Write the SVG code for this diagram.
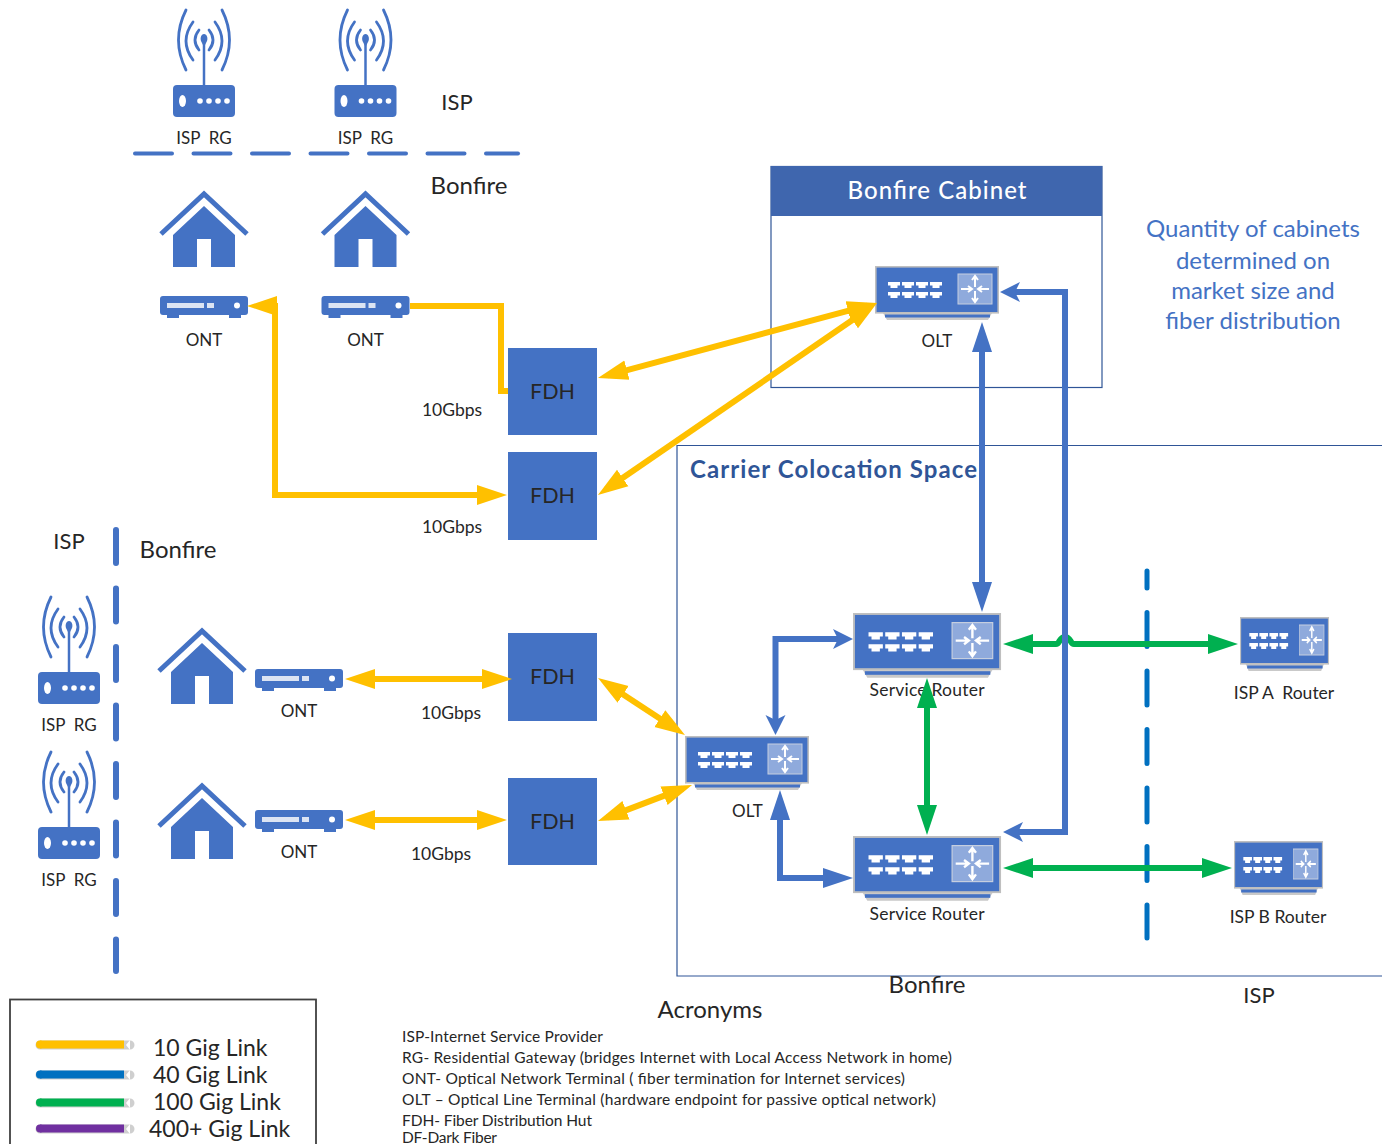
<svg xmlns="http://www.w3.org/2000/svg" width="1382" height="1144" viewBox="0 0 1382 1144">
<style>
text{font-family:Lato,"Open Sans","Liberation Sans",sans-serif;fill:#262626;white-space:pre}
.c{text-anchor:middle}
.s17{font-size:17.5px}
.s16{font-size:17px}
.s24{font-size:24px}
.s22{font-size:22px}
.f{font-size:21.5px}
.ln{fill:none;stroke-linejoin:miter}
.y{stroke:#FFC000;stroke-width:6;marker-start:url(#ya);marker-end:url(#ya)}
.b{stroke:#4472C4;stroke-width:6}
.g{stroke:#00B050;stroke-width:6;marker-start:url(#ga);marker-end:url(#ga)}
.fdh{fill:#4472C4}
.box{fill:none;stroke:#2F5597;stroke-width:1.2}
.qty{fill:#4472C4;font-size:24px;text-anchor:middle}
.acr{font-size:15.5px}
.leg{font-size:23px}
.legg{stroke:#CFCFCF;stroke-width:9;fill:none}
.legl{stroke-width:8;fill:none}
</style>
<defs>
<marker id="ya" markerUnits="userSpaceOnUse" markerWidth="32" markerHeight="22" refX="20" refY="11" orient="auto-start-reverse"><path d="M0 1L30 11L0 21z" fill="#FFC000"/></marker>
<marker id="ga" markerUnits="userSpaceOnUse" markerWidth="32" markerHeight="22" refX="20" refY="11" orient="auto-start-reverse"><path d="M0 1L30 11L0 21z" fill="#00B050"/></marker>
<marker id="bt" markerUnits="userSpaceOnUse" markerWidth="32" markerHeight="22" refX="20" refY="11" orient="auto-start-reverse"><path d="M0 1L30 11L0 21z" fill="#4472C4"/></marker>
<marker id="bs" markerUnits="userSpaceOnUse" markerWidth="22" markerHeight="22" refX="12" refY="11" orient="auto-start-reverse"><path d="M0 1L20 11L0 21L5 11z" fill="#4472C4"/></marker>
<g id="port"><path d="M0 0h12v3.500h-2.500v2.500h-7v-2.500h-2.500z" fill="#fff"/></g>
<g id="switch">
<path d="M8 47h109l-4 7h-101z" fill="#C9C9C9"/>
<rect x="10" y="48.500" width="105" height="3" fill="#4472C4"/>
<rect x="0.800" y="0.800" width="122.400" height="46" fill="#4472C4" stroke="#BFBFBF" stroke-width="1.600"/>
<use href="#port" x="13" y="16"/><use href="#port" x="27" y="16"/><use href="#port" x="41" y="16"/><use href="#port" x="55" y="16"/>
<use href="#port" x="13" y="26"/><use href="#port" x="27" y="26"/><use href="#port" x="41" y="26"/><use href="#port" x="55" y="26"/>
<rect x="83" y="8" width="34" height="30" fill="#8FAADC" stroke="#C5CEDF" stroke-width="1"/>
<path d="M100 21v-10M97 14l3-4 3 4M100 25v10M97 32l3 4 3-4M96 23h-10M93 20l4 3-4 3M104 23h10M107 20l-4 3 4 3" fill="none" stroke="#fff" stroke-width="2"/>
</g>
<g id="rg">
<rect x="-31" y="0" width="62" height="32" rx="4" fill="#4472C4"/>
<ellipse cx="-21.500" cy="16" rx="3.500" ry="6" fill="#fff"/>
<circle cx="-4" cy="16" r="2.800" fill="#fff"/><circle cx="5" cy="16" r="2.800" fill="#fff"/><circle cx="14" cy="16" r="2.800" fill="#fff"/><circle cx="23" cy="16" r="2.800" fill="#fff"/>
<path d="M0 -44V0" stroke="#4472C4" stroke-width="2.500"/>
<path d="M0 -51c-3 0-4 4-3 7l3 6 3-6c1-3 0-7-3-7z" fill="#4472C4"/>
<path d="M-5 -55q-8 10 0 20M5 -55q8 10 0 20M-11 -63q-14 19 0 38M11 -63q14 19 0 38M-18 -75q-15 30 0 60M18 -75q15 30 0 60" fill="none" stroke="#4472C4" stroke-width="2.800" stroke-linecap="round"/>
</g>
<g id="house">
<path d="M-43 43L0 3L43 43" fill="none" stroke="#4472C4" stroke-width="5"/>
<path d="M0 15L31 44V76H7V48H-7V76H-31V44z" fill="#4472C4"/>
</g>
<g id="ont">
<rect x="-44" y="0" width="88" height="19" rx="3" fill="#4472C4"/>
<rect x="-37" y="7" width="37" height="5" fill="#DCE4F3"/><rect x="3" y="7" width="7" height="5" fill="#DCE4F3"/>
<circle cx="33" cy="9.500" r="3" fill="#fff"/>
<path d="M-37 19h12v3h-12zM25 19h12v3h-12z" fill="#4472C4"/>
</g>
</defs>

<g id="cabinet">
<rect class="box" x="771" y="166.500" width="331" height="221"/>
<rect x="771" y="166" width="331" height="50" fill="#3F66AE"/>
<text class="c s24" x="937" y="199" textLength="179" style="fill:#fff;font-weight:500">Bonfire Cabinet</text>
</g>
<g id="colocation">
<path class="box" d="M1382 445.500H677V976H1382"/>
<text x="690" y="478" textLength="287" style="font-size:24px;font-weight:700;fill:#2F5597">Carrier Colocation Space</text>
</g>

<g id="zone-labels">
<text class="c s22" x="457" y="110">ISP</text>
<text class="c s24" x="469" y="194">Bonfire</text>
<text class="c s22" x="69" y="549">ISP</text>
<text class="c s24" x="178" y="558">Bonfire</text>
<text class="c s24" x="927" y="993">Bonfire</text>
<text class="c s22" x="1259" y="1003">ISP</text>
</g>

<g id="cabinet-note">
<text class="qty" x="1253" y="237">Quantity of cabinets</text>
<text class="qty" x="1253" y="269">determined on</text>
<text class="qty" x="1253" y="299">market size and</text>
<text class="qty" x="1253" y="329">fiber distribution</text>
</g>

<g id="rg1"><use href="#rg" x="204" y="85"/><text class="c s16" x="204" y="144">ISP  RG</text></g>
<g id="rg2"><use href="#rg" x="365.500" y="85"/><text class="c s16" x="365.500" y="144">ISP  RG</text></g>
<g id="rg3"><use href="#rg" x="69" y="672"/><text class="c s16" x="69" y="731">ISP  RG</text></g>
<g id="rg4"><use href="#rg" x="69" y="827"/><text class="c s16" x="69" y="886">ISP  RG</text></g>

<g id="house1"><use href="#house" x="204" y="191"/></g>
<g id="house2"><use href="#house" x="365.500" y="191"/></g>
<g id="house3"><use href="#house" x="202" y="628"/></g>
<g id="house4"><use href="#house" x="202" y="783"/></g>

<g id="ont1"><use href="#ont" x="204" y="296"/><text class="c s16" x="204" y="346">ONT</text></g>
<g id="ont2"><use href="#ont" x="365.500" y="296"/><text class="c s16" x="365.500" y="346">ONT</text></g>
<g id="ont3"><use href="#ont" x="299" y="669"/><text class="c s16" x="299" y="717">ONT</text></g>
<g id="ont4"><use href="#ont" x="299" y="810"/><text class="c s16" x="299" y="858">ONT</text></g>

<g id="fdh1"><rect class="fdh" x="508" y="348" width="89" height="87"/><text class="c f" x="552.500" y="399">FDH</text></g>
<g id="fdh2"><rect class="fdh" x="508" y="452" width="89" height="88"/><text class="c f" x="552.500" y="503">FDH</text></g>
<g id="fdh3"><rect class="fdh" x="508" y="633" width="89" height="88"/><text class="c f" x="552.500" y="684">FDH</text></g>
<g id="fdh4"><rect class="fdh" x="508" y="778" width="89" height="87"/><text class="c f" x="552.500" y="829">FDH</text></g>

<g id="speed-labels">
<text class="c s17" x="452" y="416">10Gbps</text>
<text class="c s17" x="452" y="533">10Gbps</text>
<text class="c s17" x="451" y="719">10Gbps</text>
<text class="c s17" x="441" y="860">10Gbps</text>
</g>

<g id="olt-top"><use href="#switch" transform="translate(875 266)"/><text class="c s16" x="937" y="347">OLT</text></g>
<g id="olt-low"><use href="#switch" transform="translate(685 736)"/><text class="c s16" x="747.500" y="817">OLT</text></g>
<g id="router1"><use href="#switch" transform="translate(853 613)scale(1.194 1.2)"/><text class="c s17" x="927" y="696" textLength="115">Service Router</text></g>
<g id="router2"><use href="#switch" transform="translate(853 836)scale(1.194 1.2)"/><text class="c s17" x="927" y="920" textLength="115">Service Router</text></g>
<g id="isp-a"><use href="#switch" transform="translate(1240 617)scale(.718 1)"/><text class="c s17" x="1284" y="699">ISP A  Router</text></g>
<g id="isp-b"><use href="#switch" transform="translate(1234 841)scale(.718 1)"/><text class="c s17" x="1278" y="923">ISP B Router</text></g>

<g id="boundaries">
<path d="M135 153.500H518" fill="none" stroke="#4472C4" stroke-width="4" stroke-linecap="round" stroke-dasharray="37 21.500"/>
<path d="M116 530V971" fill="none" stroke="#4472C4" stroke-width="6" stroke-linecap="round" stroke-dasharray="33 25.500"/>
<path d="M1147 571V938" fill="none" stroke="#0070C0" stroke-width="5" stroke-linecap="round" stroke-dasharray="34 24.500" stroke-dashoffset="17"/>
</g>

<g id="connectors">
<path class="ln g" d="M1013 644H1056C1060 644 1059 637 1065 637C1071 637 1070 644 1074 644H1228"/>
<path class="ln y" d="M257 306H275V495H497"/>
<path class="ln" d="M410 306H501V391H508" stroke="#FFC000" stroke-width="6"/>
<path class="ln y" d="M607.600 375.400L867.400 305.600"/>
<path class="ln y" d="M606.200 489.300L868.800 308.700"/>
<path class="ln y" d="M355 679H502"/>
<path class="ln y" d="M355 820H497"/>
<path class="ln y" d="M606.400 683.500L676.600 729.500"/>
<path class="ln y" d="M607.300 817.400L682.700 788.600"/>
<path class="ln b" d="M1008 292H1065V832H1011" marker-start="url(#bs)" marker-end="url(#bs)"/>
<path class="ln b" d="M982 332V602" marker-start="url(#bt)" marker-end="url(#bt)"/>
<path class="ln b" d="M775.500 727V639H845" marker-start="url(#bs)" marker-end="url(#bs)"/>
<path class="ln b" d="M780 800V878H843" marker-start="url(#bt)" marker-end="url(#bt)"/>
<path class="ln g" d="M927 688V825"/>
<path class="ln g" d="M1013 868H1222"/>
</g>

<g id="legend">
<rect x="10" y="999.500" width="306" height="160" fill="none" stroke="#404040" stroke-width="1.800"/>
<path class="legg" d="M40 1045H130M40 1075H130M40 1103H130M40 1129H130" stroke-linecap="round"/>
<path class="legl" d="M40 1044.500H124" stroke="#FFC000" stroke-linecap="butt"/>
<path class="legl" d="M40 1074.500H124" stroke="#0070C0" stroke-linecap="butt"/>
<path class="legl" d="M40 1102.500H124" stroke="#00B050" stroke-linecap="butt"/>
<path class="legl" d="M40 1128.500H124" stroke="#7030A0" stroke-linecap="butt"/>
<circle cx="40" cy="1044.500" r="4" fill="#FFC000"/><circle cx="40" cy="1074.500" r="4" fill="#0070C0"/><circle cx="40" cy="1102.500" r="4" fill="#00B050"/><circle cx="40" cy="1128.500" r="4" fill="#7030A0"/>
<path d="M130 1040l-4 5 4 5zM130 1070l-4 5 4 5zM130 1098l-4 5 4 5zM130 1124l-4 5 4 5z" fill="#fff"/>
<text class="leg" x="153" y="1056">10 Gig Link</text>
<text class="leg" x="153" y="1083">40 Gig Link</text>
<text class="leg" x="153" y="1110">100 Gig Link</text>
<text class="leg" x="149" y="1137">400+ Gig Link</text>
</g>

<g id="acronyms">
<text class="c s24" x="710" y="1018">Acronyms</text>
<text class="acr" x="402" y="1042" textLength="201">ISP-Internet Service Provider</text>
<text class="acr" x="402" y="1063" textLength="550">RG- Residential Gateway (bridges Internet with Local Access Network in home)</text>
<text class="acr" x="402" y="1084" textLength="503">ONT- Optical Network Terminal ( fiber termination for Internet services)</text>
<text class="acr" x="402" y="1105" textLength="534">OLT – Optical Line Terminal (hardware endpoint for passive optical network)</text>
<text class="acr" x="402" y="1126" textLength="190">FDH- Fiber Distribution Hut</text>
<text class="acr" x="402" y="1143" textLength="95">DF-Dark Fiber</text>
</g>
</svg>
